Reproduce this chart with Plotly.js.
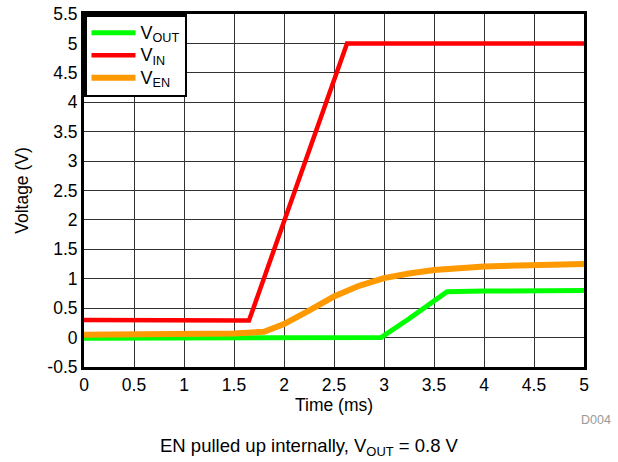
<!DOCTYPE html>
<html><head><meta charset="utf-8">
<script src="https://cdn.plot.ly/plotly-3.0.1.min.js"></script>
<style>html,body{margin:0;padding:0;background:#fff}#chart{width:618px;height:462px}</style>
</head><body><div id="chart"></div>
<script>
const voutT = [0, 0.5, 1.0, 1.5, 2.0, 2.5, 2.97, 3.25, 3.5, 3.63, 4.0, 4.5, 5.0];
const voutV = [-0.01, -0.01, 0.0, 0.0, 0.0, 0.0, 0.0, 0.32, 0.63, 0.78, 0.79, 0.8, 0.8];
const vinT = [0, 0.5, 1.0, 1.5, 1.65, 2.63, 3.0, 3.5, 4.0, 4.5, 5.0];
const vinV = [0.3, 0.3, 0.3, 0.3, 0.29, 5.0, 5.0, 5.0, 5.0, 5.0, 5.0];
const venT = [0, 0.5, 1.0, 1.5, 1.8, 2.0, 2.25, 2.5, 2.75, 3.0, 3.25, 3.5, 4.0, 4.5, 5.0];
const venV = [0.05, 0.05, 0.06, 0.07, 0.1, 0.23, 0.46, 0.7, 0.88, 1.01, 1.09, 1.15, 1.21, 1.24, 1.25];
const seriesNames = ['V<sub>OUT</sub>', 'V<sub>IN</sub>', 'V<sub>EN</sub>'];
const xTicks = [0, 0.5, 1, 1.5, 2, 2.5, 3, 3.5, 4, 4.5, 5];
const yTicks = [-0.5, 0, 0.5, 1, 1.5, 2, 2.5, 3, 3.5, 4, 4.5, 5, 5.5];

const big = s => '<span style="font-size:18px">' + s + '</span>';
const traces = [
  {x: voutT, y: voutV, name: big(seriesNames[0]), mode: 'lines', line: {color: '#00ff00', width: 5}},
  {x: vinT, y: vinV, name: big(seriesNames[1]), mode: 'lines', line: {color: '#ff0000', width: 4.5}},
  {x: venT, y: venV, name: big(seriesNames[2]), mode: 'lines', line: {color: '#ff9900', width: 6}}
];
const fam = 'Liberation Sans, Arial, sans-serif';
const tickFont = {family: fam, size: 17.5, color: '#000'};
const titleFont = {family: fam, size: 17.5, color: '#000'};
const layout = {
  width: 618, height: 462,
  margin: {l: 84, r: 34, t: 14, b: 95},
  paper_bgcolor: '#fff', plot_bgcolor: '#fff',
  showlegend: true,
  legend: {x: 0, y: 1, xanchor: 'left', yanchor: 'top', bgcolor: '#fff', bordercolor: '#000', borderwidth: 2.5,
    font: {family: fam, size: 15, color: '#000'}, tracegroupgap: 0, itemwidth: 44},
  xaxis: {range: [0, 5], tickvals: xTicks, ticktext: xTicks.map(String), showgrid: true, gridcolor: '#333', gridwidth: 1,
    zeroline: false, showline: true, linecolor: '#000', linewidth: 3, mirror: true, ticks: '', tickfont: tickFont,
    title: {text: 'Time (ms)', font: titleFont, standoff: 4}},
  yaxis: {range: [-0.5, 5.5], tickvals: yTicks, ticktext: yTicks.map(String), showgrid: true, gridcolor: '#333', gridwidth: 1,
    zeroline: false, showline: true, linecolor: '#000', linewidth: 3, mirror: true, ticks: '', tickfont: tickFont,
    title: {text: 'Voltage (V)', font: titleFont, standoff: 15}},
  annotations: [
    {text: 'D004', xref: 'paper', yref: 'paper', x: 1.058, y: -0.15, xanchor: 'right', yanchor: 'middle', showarrow: false,
      font: {family: fam, size: 12.5, color: '#999'}},
    {text: 'EN pulled up internally, V<sub>OUT</sub> = 0.8 V', xref: 'paper', yref: 'paper', x: 0.45, y: -0.227,
      xanchor: 'center', yanchor: 'middle', showarrow: false,
      font: {family: fam, size: 18.5, color: '#000'}}
  ]
};
Plotly.newPlot('chart', traces, layout, {displayModeBar: false, staticPlot: true});
</script></body></html>
